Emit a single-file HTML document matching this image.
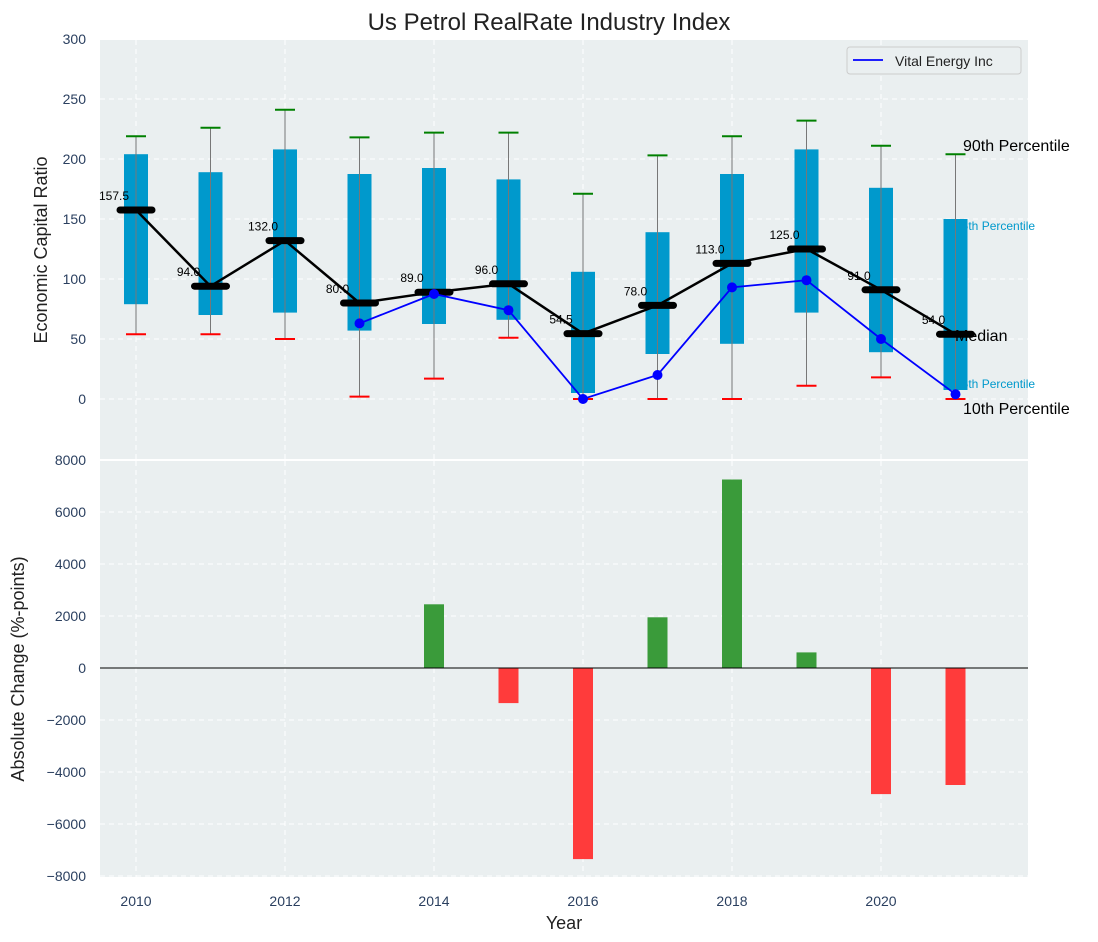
<!DOCTYPE html>
<html><head><meta charset="utf-8"><style>
body{margin:0;background:#fff;}
svg{display:block;font-family:"Liberation Sans","DejaVu Sans",sans-serif;}
</style></head><body>
<svg id="chart" width="1098" height="942" viewBox="0 0 1098 942"></svg>
<script>
const years=[2010,2011,2012,2013,2014,2015,2016,2017,2018,2019,2020,2021];
const medians=[157.5,94,132,80,89,96,54.5,78,113,125,91,54];
const q3=[204,189,208,187.5,192.5,183,106,139,187.5,208,176,150];
const q1=[79,70,72,57,62.5,66,5,37.5,46,72,39,7.5];
const p90=[219,226,241,218,222,222,171,203,219,232,211,204];
const p10=[54,54,50,2,17,51,0,0,0,11,18,0];
const vitalYears=[2013,2014,2015,2016,2017,2018,2019,2020,2021];
const vitalValues=[63,87.5,74,0,20,93,99,50,4];
const changeYears=[2014,2015,2016,2017,2018,2019,2020,2021];
const changeValues=[2450,-1350,-7350,1950,7250,600,-4850,-4500];
const topTicks=[0,50,100,150,200,250,300];
const botTicks=[-8000,-6000,-4000,-2000,0,2000,4000,6000,8000];
const xTicks=[2010,2012,2014,2016,2018,2020];

const svg=document.getElementById('chart');
const NS='http://www.w3.org/2000/svg';
function mk(tag,attrs,name,parent){const e=document.createElementNS(NS,tag);for(const k in attrs)e.setAttribute(k,attrs[k]);


(parent||svg).appendChild(e);return e;}
function txt(x,y,s,attrs,name){const t=mk('text',Object.assign({x:x,y:y},attrs),name);t.textContent=s;return t;}

const L=100,R=1028;
const X=v=>136+(v-2010)*74.5;
const YT=v=>399-v*1.2;
const YB=v=>668-v*0.026;

// backgrounds
mk('rect',{x:L,y:40,width:R-L,height:419,fill:'#eaeff0'},'top-plot-area');
mk('rect',{x:L,y:461,width:R-L,height:416,fill:'#eaeff0'},'bottom-plot-area');

// grids
xTicks.forEach(t=>{
mk('line',{x1:X(t),x2:X(t),y1:40,y2:459,stroke:'#fff','stroke-dasharray':'5,4','stroke-width':1},'top-x-grid');
mk('line',{x1:X(t),x2:X(t),y1:461,y2:877,stroke:'#fff','stroke-dasharray':'5,4','stroke-width':1},'bottom-x-grid');
txt(X(t),906,String(t),{'text-anchor':'middle','font-size':14,fill:'#2a3f5f'},'x-tick-label');
});
topTicks.forEach(t=>{
mk('line',{x1:L,x2:R,y1:YT(t),y2:YT(t),stroke:'#fff','stroke-dasharray':'5,4'},'top-y-grid');
txt(86,YT(t)+5,String(t),{'text-anchor':'end','font-size':14,fill:'#2a3f5f'},'top-y-tick-label');
});
botTicks.forEach(t=>{
mk('line',{x1:L,x2:R,y1:YB(t),y2:YB(t),stroke:'#fff','stroke-dasharray':'5,4'},'bottom-y-grid');
txt(86,YB(t)+5,(t<0?'\u2212':'')+Math.abs(t),{'text-anchor':'end','font-size':14,fill:'#2a3f5f'},'bottom-y-tick-label');
});

// boxes & whiskers
years.forEach((y,i)=>{
const cx=X(y);
mk('rect',{x:cx-12,y:YT(q3[i]),width:24,height:YT(q1[i])-YT(q3[i]),fill:'#0099cc'},'box-'+y);
mk('line',{x1:cx,x2:cx,y1:YT(p90[i]),y2:YT(p10[i]),stroke:'#777','stroke-width':1},'whisker-'+y);
mk('line',{x1:cx-10,x2:cx+10,y1:YT(p90[i]),y2:YT(p90[i]),stroke:'green','stroke-width':2},'p90-cap-'+y);
mk('line',{x1:cx-10,x2:cx+10,y1:YT(p10[i]),y2:YT(p10[i]),stroke:'red','stroke-width':2},'p10-cap-'+y);
});
// median line
mk('polyline',{points:years.map((y,i)=>X(y)+','+YT(medians[i])).join(' '),fill:'none',stroke:'#000','stroke-width':2.5},'median-line');
years.forEach((y,i)=>{
mk('line',{x1:X(y)-16,x2:X(y)+16,y1:YT(medians[i]),y2:YT(medians[i]),stroke:'#000','stroke-width':7,'stroke-linecap':'round'},'median-marker-'+y);
txt(X(y)-22,YT(medians[i])-10,medians[i].toFixed(1),{'text-anchor':'middle','font-size':12,fill:'#000'},'median-label-'+y);
});
// vital line
mk('polyline',{points:vitalYears.map((y,i)=>X(y)+','+YT(vitalValues[i])).join(' '),fill:'none',stroke:'blue','stroke-width':1.8},'vital-energy-line');
vitalYears.forEach((y,i)=>mk('circle',{cx:X(y),cy:YT(vitalValues[i]),r:5,fill:'blue'},'vital-point-'+y));

// right labels
txt(963,151,'90th Percentile',{'font-size':16,fill:'#000'},'label-90th');
txt(955,230,'75th Percentile',{'font-size':12,fill:'#0099cc'},'label-75th');
txt(955,341,'Median',{'font-size':16,fill:'#000'},'label-median');
txt(955,388,'25th Percentile',{'font-size':12,fill:'#0099cc'},'label-25th');
txt(963,414,'10th Percentile',{'font-size':16,fill:'#000'},'label-10th');

// legend
mk('rect',{x:847,y:47,width:174,height:27,fill:'#eaeff0',stroke:'#ccc',rx:3},'legend');
mk('line',{x1:853,x2:883,y1:60,y2:60,stroke:'blue','stroke-width':1.8},'legend-line');
txt(895,66,'Vital Energy Inc',{'font-size':14,fill:'#222'},'legend-label');

// bars
changeYears.forEach((y,i)=>{
const v=changeValues[i];
mk('rect',{x:X(y)-10,y:Math.min(YB(v),YB(0)),width:20,height:Math.abs(YB(v)-YB(0)),fill:v>=0?'#3a9b3a':'#ff3b3b'},'bar-'+y);
});
mk('line',{x1:L,x2:R,y1:YB(0),y2:YB(0),stroke:'#000','stroke-width':1},'zero-line');

// titles
txt(549,30,'Us Petrol RealRate Industry Index',{'text-anchor':'middle','font-size':24,fill:'#222'},'chart-title');
txt(564,929,'Year',{'text-anchor':'middle','font-size':18,fill:'#222'},'x-axis-title');
txt(0,0,'Economic Capital Ratio',{'text-anchor':'middle','font-size':18,fill:'#222',transform:'translate(47,250) rotate(-90)'},'top-y-axis-title');
txt(0,0,'Absolute Change (%-points)',{'text-anchor':'middle','font-size':18,fill:'#222',transform:'translate(24,669) rotate(-90)'},'bottom-y-axis-title');
</script>
</body></html>
